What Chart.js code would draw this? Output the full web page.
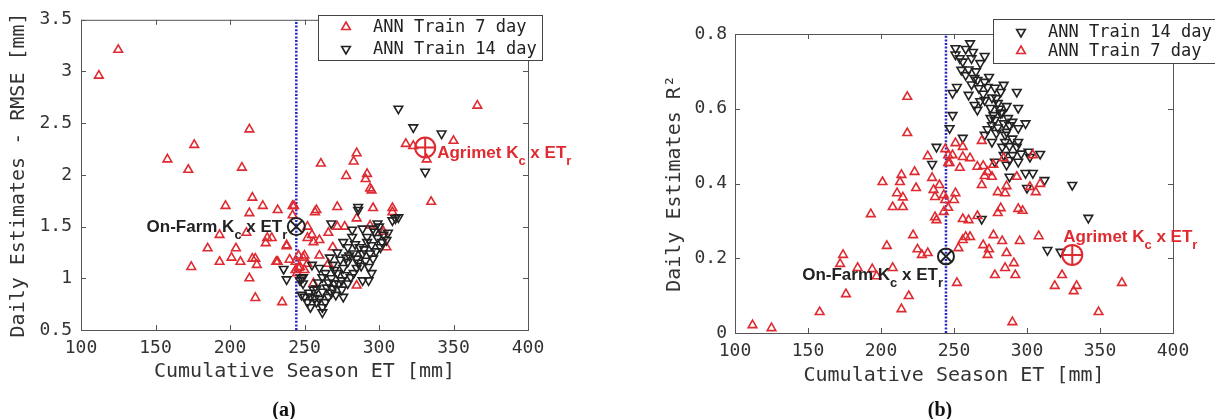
<!DOCTYPE html>
<html>
<head>
<meta charset="utf-8">
<script src="https://cdn.jsdelivr.net/npm/chart.js@4.4.0/dist/chart.umd.min.js"></script>
<style>
  body { margin: 0; background: #fff; width: 1215px; height: 419px; position: relative; overflow: hidden; }
  .panel { position: absolute; top: 0; }
  .tag { position: absolute; font: bold 20px 'Liberation Serif', serif; color: #111; transform: translate(-50%, -50%); }
</style>
</head>
<body>
<div class="panel" style="left:0"><canvas id="rmseChart" width="607" height="419"></canvas></div>
<div class="panel" style="left:607px"><canvas id="r2Chart" width="608" height="419"></canvas></div>
<div class="tag" style="left:284px;top:409px">(a)</div>
<div class="tag" style="left:940px;top:409px">(b)</div>
<script>
// axis ticks
const etTicks = [100, 150, 200, 250, 300, 350, 400];
const rmseTicks = [0.5, 1, 1.5, 2, 2.5, 3, 3.5];
const r2Ticks = [0, 0.2, 0.4, 0.6, 0.8];

// reference estimates: season ET [mm]
const onFarmET = 244.5;
const agrimetET = 331;
const onFarmRmse = 1.5, agrimetRmse = 2.265;
const onFarmR2 = 0.205, agrimetR2 = 0.209;

// (a) RMSE, [season ET, RMSE]
const rmse7day = [
  [112,2.96],[125,3.21],[158,2.15],[176,2.29],[172,2.05],[213,2.44],[208,2.07],[215,1.78],[222,1.70],[197,1.70],
  [213,1.63],[232,1.66],[243,1.70],[242,1.61],[193,1.42],[211,1.44],[225,1.39],[228,1.39],[224,1.34],[238,1.31],
  [185,1.29],[204,1.29],[201,1.20],[207,1.16],[193,1.16],[215,1.19],[217,1.19],[218,1.13],[174,1.11],[232,1.16],
  [240,1.18],[213,1.00],[217,0.81],[235,0.77],[244,1.08],[245,1.05],[246,1.22],[244,1.16],[249,1.20],[247,1.11],
  [250,1.08],[261,2.11],[285,2.21],[283,2.13],[278,1.99],[292,2.01],[291,1.96],[294,1.87],[295,1.85],[318,2.30],
  [323,2.28],[350,2.33],[332,2.15],[335,1.74],[366,2.67],[258,1.66],[272,1.69],[296,1.68],[309,1.68],[309,1.64],
  [285,1.58],[294,1.51],[252,1.50],[272,1.50],[277,1.50],[266,1.44],[255,1.42],[256,1.35],[260,1.37],[269,1.30],
  [303,1.45],[305,1.30],[250,1.22],[260,1.22],[266,1.14],[252,1.14],[246,1.10],[256,0.95],[285,0.93],[252,1.39],
  [238,1.32],[231,1.16],[257,1.64],[242,1.70]
];
const rmse14day = [
  [313,2.64],[323,2.46],[342,2.40],[331,2.03],[286,1.69],[286,1.66],[313,1.59],[309,1.56],[299,1.53],[268,1.53],
  [289,1.48],[311,1.58],[303,1.42],[282,1.40],[276,1.35],[292,1.35],[299,1.39],[305,1.37],[279,1.30],[287,1.30],
  [295,1.32],[301,1.30],[272,1.25],[283,1.24],[289,1.24],[294,1.24],[285,1.19],[291,1.17],[296,1.19],[279,1.16],
  [269,1.13],[255,1.13],[276,1.10],[285,1.10],[293,1.11],[295,1.05],[272,1.05],[281,1.01],[262,1.01],[268,1.00],
  [275,0.98],[289,0.98],[293,0.98],[259,0.96],[273,0.95],[279,0.95],[247,0.98],[249,0.95],[265,0.91],[269,0.90],
  [275,0.89],[256,0.89],[262,0.87],[250,0.82],[254,0.82],[257,0.81],[266,0.82],[271,0.84],[276,0.82],[252,0.77],
  [258,0.77],[264,0.77],[254,0.72],[262,0.67],[262,0.72],[248,0.84],[267,1.20],[260,1.10],[249,1.01],[236,1.09],
  [238,0.99],[248,1.00],[282,1.47],[278,1.20],[270,1.08],[264,1.05],[280,1.22],[286,1.15],[290,1.28],[297,1.45],
  [300,1.50],[270,0.95],[283,1.05],[288,1.12],[274,1.18],[266,0.96],[258,0.90],[253,0.86],[260,0.80],[268,0.86],
  [277,1.03],[284,1.33],[292,1.40],[298,1.26],[302,1.35],[306,1.44],[296,1.48]
];

// (b) R², [season ET, R²]
const r2_14day = [
  [251,0.762],[261,0.775],[251,0.745],[254,0.735],[256,0.726],[263,0.752],[271,0.741],[262,0.735],[268,0.722],[255,0.704],
  [264,0.682],[266,0.677],[274,0.685],[271,0.672],[273,0.658],[278,0.656],[284,0.664],[282,0.645],[252,0.658],[249,0.642],
  [260,0.637],[293,0.645],[271,0.623],[279,0.628],[264,0.610],[266,0.597],[275,0.602],[286,0.607],[294,0.602],[249,0.583],
  [277,0.583],[282,0.588],[275,0.575],[247,0.548],[276,0.556],[284,0.561],[288,0.556],[299,0.561],[294,0.548],[271,0.530],
  [279,0.535],[286,0.538],[256,0.522],[276,0.511],[285,0.511],[294,0.511],[283,0.498],[293,0.498],[238,0.498],[301,0.485],
  [309,0.479],[284,0.476],[290,0.476],[235,0.452],[288,0.463],[294,0.458],[302,0.471],[278,0.458],[286,0.450],[288,0.418],
  [299,0.428],[304,0.428],[312,0.409],[300,0.388],[331,0.396],[342,0.308],[314,0.222],[323,0.217],[269,0.305],[258,0.690],
  [262,0.665],[267,0.655],[270,0.640],[276,0.630],[280,0.615],[283,0.590],[287,0.575],[290,0.565],[280,0.550],[285,0.530],
  [290,0.520],[288,0.500],[296,0.480],[281,0.600],[278,0.570],[273,0.545],[268,0.620],[260,0.705],[258,0.760],[265,0.700]
];
const r2_7day = [
  [218,0.632],[218,0.535],[201,0.404],[214,0.423],[213,0.404],[223,0.431],[211,0.374],[215,0.363],[224,0.388],[193,0.318],
  [208,0.337],[215,0.337],[222,0.262],[204,0.233],[174,0.209],[172,0.185],[184,0.174],[194,0.171],[197,0.152],[208,0.174],
  [225,0.224],[176,0.104],[219,0.099],[214,0.064],[158,0.056],[112,0.021],[125,0.013],[232,0.473],[235,0.415],[236,0.383],
  [240,0.396],[237,0.364],[243,0.369],[244,0.492],[246,0.476],[246,0.455],[244,0.356],[246,0.335],[243,0.324],[237,0.310],
  [238,0.302],[228,0.209],[232,0.214],[252,0.134],[251,0.508],[256,0.498],[256,0.471],[249,0.476],[247,0.455],[254,0.442],
  [261,0.468],[269,0.514],[284,0.468],[304,0.476],[266,0.445],[270,0.447],[273,0.431],[276,0.418],[271,0.420],[277,0.450],
  [293,0.418],[269,0.396],[280,0.377],[285,0.374],[286,0.393],[302,0.391],[306,0.377],[309,0.399],[251,0.374],[250,0.356],
  [282,0.334],[280,0.321],[294,0.332],[297,0.327],[256,0.305],[260,0.302],[266,0.313],[258,0.257],[256,0.249],[261,0.257],
  [253,0.227],[277,0.262],[283,0.246],[295,0.246],[308,0.259],[270,0.235],[274,0.224],[273,0.209],[286,0.214],[285,0.174],
  [291,0.187],[278,0.155],[292,0.155],[324,0.155],[319,0.126],[334,0.126],[332,0.112],[290,0.029],[349,0.056],[365,0.134]
];

const RED = '#de2a30';
const BLACK = '#222';
const MONO = 'DejaVu Sans Mono';
const pts = arr => arr.map(([x, y]) => ({x, y}));

function triSet(label, data, color, rotation, order) {
  return {
    label, data: pts(data), order,
    pointStyle: 'triangle', pointRotation: rotation, pointRadius: 5, pointHoverRadius: 5,
    pointBorderColor: color, pointBackgroundColor: 'rgba(0,0,0,0)', pointBorderWidth: 1.6,
    borderColor: color, backgroundColor: 'rgba(0,0,0,0)'
  };
}
function markSet(x, y, style, color, r) {
  return {
    label: '', data: [{x, y}], order: 0, pointStyle: style, pointRadius: r, pointHoverRadius: r,
    pointBorderColor: color, pointBackgroundColor: 'rgba(0,0,0,0)', pointBorderWidth: 2, clip: false
  };
}
function lineSet(x, y0, y1) {
  return {
    type: 'line', label: '', data: [{x, y: y0}, {x, y: y1}], order: 5,
    borderColor: '#2626c8', borderWidth: 2.5, borderDash: [2, 1.6], pointRadius: 0, showLine: true
  };
}

// axes box with inward ticks on all four sides
const boxTicks = {
  id: 'boxTicks',
  beforeDatasetsDraw(chart) {
    const {ctx, chartArea: a, scales} = chart;
    ctx.save();
    ctx.strokeStyle = '#555';
    ctx.lineWidth = 1;
    ctx.strokeRect(a.left + 0.5, a.top + 0.5, a.right - a.left, a.bottom - a.top);
    ctx.beginPath();
    scales.x.ticks.forEach(t => {
      const px = Math.round(scales.x.getPixelForValue(t.value)) + 0.5;
      ctx.moveTo(px, a.bottom); ctx.lineTo(px, a.bottom - 5);
      ctx.moveTo(px, a.top); ctx.lineTo(px, a.top + 5);
    });
    scales.y.ticks.forEach(t => {
      const py = Math.round(scales.y.getPixelForValue(t.value)) + 0.5;
      ctx.moveTo(a.left, py); ctx.lineTo(a.left + 5, py);
      ctx.moveTo(a.right, py); ctx.lineTo(a.right - 5, py);
    });
    ctx.stroke();
    ctx.restore();
  }
};

// "name Kc x ETr" annotations next to the reference markers
const kcLabels = {
  id: 'kcLabels',
  afterDatasetsDraw(chart, args, opts) {
    const {ctx, scales} = chart;
    const main = 'bold 17px "Liberation Sans", Arial, sans-serif';
    const sub = 'bold 13px "Liberation Sans", Arial, sans-serif';
    (opts.items || []).forEach(it => {
      const parts = [[it.name + ' K', false], ['c', true], [' x ET', false], ['r', true]];
      let total = 0;
      parts.forEach(([t, s]) => { ctx.font = s ? sub : main; total += ctx.measureText(t).width; });
      const px = scales.x.getPixelForValue(it.x);
      const py = scales.y.getPixelForValue(it.y);
      let x = it.alignRight ? px + it.dx - total : px + it.dx;
      const base = py + it.dy;
      ctx.save();
      ctx.fillStyle = it.color;
      ctx.textBaseline = 'alphabetic';
      ctx.textAlign = 'left';
      parts.forEach(([t, s]) => {
        ctx.font = s ? sub : main;
        ctx.fillText(t, x, s ? base + 7 : base);
        x += ctx.measureText(t).width;
      });
      ctx.restore();
    });
  }
};

// boxed legend placed like the original
const boxLegend = {
  id: 'boxLegend',
  afterDraw(chart, args, opts) {
    const {ctx} = chart;
    const [x0, y0, x1, y1] = opts.box;
    ctx.save();
    ctx.fillStyle = '#fff';
    ctx.fillRect(x0, y0, x1 - x0, y1 - y0);
    ctx.strokeStyle = '#444';
    ctx.lineWidth = 1;
    ctx.strokeRect(x0 + 0.5, y0 + 0.5, x1 - x0, y1 - y0);
    opts.rows.forEach(([idx, y]) => {
      const ds = chart.data.datasets[idx];
      ctx.strokeStyle = ds.pointBorderColor;
      ctx.fillStyle = 'rgba(0,0,0,0)';
      ctx.lineWidth = 1.6;
      Chart.helpers.drawPoint(ctx, {pointStyle: 'triangle', rotation: ds.pointRotation, radius: 5, borderWidth: 1.6}, opts.markX, y);
      ctx.fillStyle = '#222';
      ctx.font = '17px "' + MONO + '"';
      ctx.textBaseline = 'middle';
      ctx.fillText(ds.label, opts.textX, y + 1);
    });
    ctx.restore();
  }
};

function axes(yTicks, yTitle, yWidth, yTitlePad, yTickPad, xHeight, xTitlePad) {
  const tickFont = {family: MONO, size: 18};
  const titleFont = {family: MONO, size: 20};
  const plain = v => String(Math.round(v * 100) / 100);
  return {
    x: {
      type: 'linear', min: etTicks[0], max: etTicks[etTicks.length - 1],
      ticks: {stepSize: etTicks[1] - etTicks[0], padding: 8, color: '#333', font: tickFont, callback: plain},
      grid: {display: false, drawTicks: false}, border: {display: false},
      title: {display: true, text: 'Cumulative Season ET [mm]', color: '#333', font: titleFont, padding: {top: 0, bottom: xTitlePad}},
      afterFit: s => { s.height = xHeight; }
    },
    y: {
      type: 'linear', min: yTicks[0], max: yTicks[yTicks.length - 1],
      ticks: {stepSize: yTicks[1] - yTicks[0], padding: yTickPad, color: '#333', font: tickFont, callback: plain},
      grid: {display: false, drawTicks: false}, border: {display: false},
      title: {display: true, text: yTitle, color: '#333', font: titleFont, padding: {top: yTitlePad, bottom: 0}},
      afterFit: s => { s.width = yWidth; }
    }
  };
}

const common = {
  responsive: false,
  animation: false,
  events: []
};

new Chart(document.getElementById('rmseChart'), {
  type: 'scatter',
  data: {
    datasets: [
      triSet('ANN Train 7 day', rmse7day, RED, 0, 3),
      triSet('ANN Train 14 day', rmse14day, BLACK, 180, 2),
      lineSet(onFarmET, rmseTicks[0], rmseTicks[rmseTicks.length - 1]),
      markSet(onFarmET, onFarmRmse, 'circle', BLACK, 8.5),
      markSet(onFarmET, onFarmRmse, 'crossRot', BLACK, 8.5),
      markSet(agrimetET, agrimetRmse, 'circle', RED, 10),
      markSet(agrimetET, agrimetRmse, 'cross', RED, 10)
    ]
  },
  options: {
    ...common,
    layout: {padding: {left: 0, top: 19, right: 79, bottom: 0}},
    scales: axes(rmseTicks, 'Daily Estimates - RMSE [mm]', 81, 7, 9, 89, 35),
    plugins: {
      legend: {display: false},
      tooltip: {enabled: false},
      kcLabels: {items: [
        {name: 'On-Farm', x: onFarmET, y: onFarmRmse, dx: -9, dy: 5, alignRight: true, color: BLACK},
        {name: 'Agrimet', x: agrimetET, y: agrimetRmse, dx: 12, dy: 11, alignRight: false, color: RED}
      ]},
      boxLegend: {box: [318, 15, 542, 60], markX: 346, textX: 373, rows: [[0, 27], [1, 49]]}
    }
  },
  plugins: [boxTicks, kcLabels, boxLegend]
});

new Chart(document.getElementById('r2Chart'), {
  type: 'scatter',
  data: {
    datasets: [
      triSet('ANN Train 14 day', r2_14day, BLACK, 180, 3),
      triSet('ANN Train 7 day', r2_7day, RED, 0, 2),
      lineSet(onFarmET, r2Ticks[0], r2Ticks[r2Ticks.length - 1]),
      markSet(onFarmET, onFarmR2, 'circle', BLACK, 8),
      markSet(onFarmET, onFarmR2, 'crossRot', BLACK, 8),
      markSet(agrimetET, agrimetR2, 'circle', RED, 10),
      markSet(agrimetET, agrimetR2, 'cross', RED, 10)
    ]
  },
  options: {
    ...common,
    layout: {padding: {left: 0, top: 34, right: 42, bottom: 0}},
    scales: axes(r2Ticks, 'Daily Estimates R²', 128, 56, 8, 86, 31),
    plugins: {
      legend: {display: false},
      tooltip: {enabled: false},
      kcLabels: {items: [
        {name: 'On-Farm', x: onFarmET, y: onFarmR2, dx: -3, dy: 24, alignRight: true, color: BLACK},
        {name: 'Agrimet', x: agrimetET, y: agrimetR2, dx: -9, dy: -13, alignRight: false, color: RED}
      ]},
      boxLegend: {box: [386, 19, 625, 63], markX: 414, textX: 441, rows: [[0, 32], [1, 51]]}
    }
  },
  plugins: [boxTicks, kcLabels, boxLegend]
});
</script>
</body>
</html>
